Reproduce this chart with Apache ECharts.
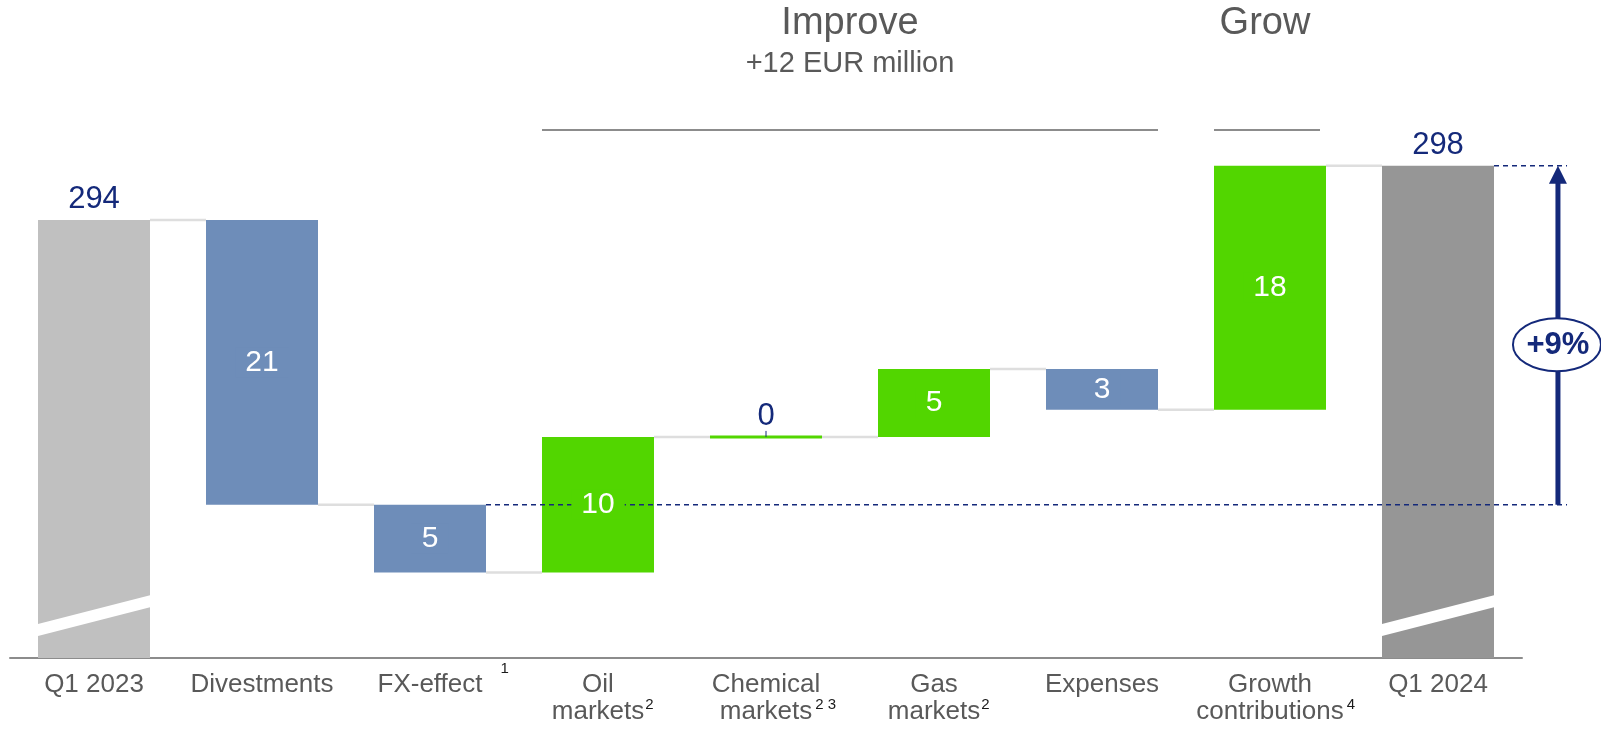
<!DOCTYPE html>
<html><head><meta charset="utf-8">
<script src="https://cdn.jsdelivr.net/npm/echarts@6/dist/echarts.min.js"></script>
<style>html,body{margin:0;padding:0;background:#fff}#c{width:1601px;height:729px}</style>
</head><body><div id="c"></div>
<script>
// ---- data ----
const categories = ['Q1 2023','Divestments','FX-effect','Oil\nmarkets','Chemical\nmarkets','Gas\nmarkets','Expenses','Growth\ncontributions','Q1 2024'];
const footnotes = ['','','1','2','2 3','2','','4',''];
const values = [294,-21,-5,10,0,5,-3,18,298];
const isTotal = [true,false,false,false,false,false,false,false,true];
const valueLabels = ['294','21','5','10','0','5','3','18','298'];
const headerTitles = ['Improve','Grow'];
const headerSubtitle = '+12 EUR million';
const changeLabel = '+9%';

// ---- style / layout ----
const Y_MIN = 261.7, Y_MAX = 308;
const NAVY = '#14297A', GRAY_TXT = '#595959';
const C_UP = '#52D600', C_DOWN = '#6E8DB9', C_TOT = ['#C0C0C0', '#969696'];
const FONT = "'Liberation Sans', Arial, sans-serif";
const supGap = [0,0,18,1,3,1,0,3,0];
const supRaise = [0,0,32,14,14,14,0,14,0];

// running totals
let run = 0;
const lows = [], highs = [], ends = [], colors = [];
let totalCount = 0;
values.forEach((v, i) => {
  if (isTotal[i]) {
    lows.push(Y_MIN); highs.push(v); run = v;
    colors.push(C_TOT[totalCount++]);
  } else {
    const s = run; run = s + v;
    lows.push(Math.min(s, run)); highs.push(Math.max(s, run));
    colors.push(v >= 0 ? C_UP : C_DOWN);
  }
  ends.push(run);
});
const n = categories.length;
const barData = categories.map((c, i) => [i, lows[i], highs[i]]);

function renderBars(params, api) {
  const i = api.value(0);
  const catW = api.size([1, 0])[0];
  const w = catW * 2 / 3;
  const pHi = api.coord([i, api.value(2)]);
  const pLo = api.coord([i, api.value(1)]);
  const x = pHi[0] - w / 2;
  let y = pHi[1], h = pLo[1] - pHi[1];
  if (h < 3) { y = pHi[1] - 1.5; h = 3; }
  const children = [];
  if (i < n - 1) {
    const yc = api.coord([i, ends[i]])[1];
    children.push({type: 'line', shape: {x1: x + w, y1: yc, x2: x + catW, y2: yc},
      style: {stroke: '#DEDEDE', lineWidth: 2.5}});
  }
  children.push({type: 'rect', shape: {x: x, y: y, width: w, height: h}, style: {fill: colors[i]}});
  if (isTotal[i]) {
    const yL = api.coord([i, 263.75])[1], yR = api.coord([i, 265.9])[1];
    children.push({type: 'polygon', shape: {points: [[x - 1, yL - 6], [x + w + 1, yR - 6], [x + w + 1, yR + 6], [x - 1, yL + 6]]},
      style: {fill: '#FFFFFF'}});
  }
  return {type: 'group', children};
}

function renderLabels(params, api) {
  const i = api.value(0);
  const hi = api.value(2), lo = api.value(1);
  const pHi = api.coord([i, hi]);
  const pLo = api.coord([i, lo]);
  const children = [];
  if (isTotal[i] || values[i] === 0) {
    children.push({type: 'text', x: pHi[0], y: pHi[1] - 5,
      style: {text: valueLabels[i], fill: NAVY, fontSize: 31, fontFamily: FONT, align: 'center', verticalAlign: 'bottom'}});
    if (values[i] === 0) {
      children.push({type: 'line', shape: {x1: pHi[0], y1: pHi[1] - 6, x2: pHi[0], y2: pHi[1]},
        style: {stroke: NAVY, lineWidth: 1}});
    }
  } else {
    children.push({type: 'text', x: pHi[0], y: (pHi[1] + pLo[1]) / 2,
      style: {text: valueLabels[i], fill: '#FFFFFF', fontSize: 30, fontFamily: FONT, align: 'center', verticalAlign: 'middle',
        backgroundColor: colors[i], padding: [0, 10]}});
  }
  return {type: 'group', children};
}

function renderAnno(params, api) {
  const catW = api.size([1, 0])[0];
  const w = catW * 2 / 3;
  const cx = k => api.coord([k, Y_MIN])[0];
  const yv = v => api.coord([0, v])[1];
  const ch = [];
  // headers
  const impL = cx(3) - w / 2, impR = cx(6) + w / 2;
  const grL = cx(7) - w / 2, grR = cx(7) + w / 2 - 6;
  ch.push({type: 'line', shape: {x1: impL, y1: 130, x2: impR, y2: 130}, style: {stroke: '#8C8C8C', lineWidth: 2}});
  ch.push({type: 'line', shape: {x1: grL, y1: 130, x2: grR, y2: 130}, style: {stroke: '#8C8C8C', lineWidth: 2}});
  ch.push({type: 'text', x: (impL + impR) / 2, y: 24, style: {text: headerTitles[0], fill: GRAY_TXT, fontSize: 38, fontFamily: FONT, align: 'center', verticalAlign: 'middle'}});
  ch.push({type: 'text', x: (impL + impR) / 2, y: 64, style: {text: headerSubtitle, fill: GRAY_TXT, fontSize: 29, fontFamily: FONT, align: 'center', verticalAlign: 'middle'}});
  ch.push({type: 'text', x: (grL + grR) / 2 - 2, y: 24, style: {text: headerTitles[1], fill: GRAY_TXT, fontSize: 38, fontFamily: FONT, align: 'center', verticalAlign: 'middle'}});
  // dashed reference lines
  const xEnd = cx(n - 1) + 0.768 * catW;
  const yBase = yv(ends[1]);
  const yTop = yv(ends[n - 1]);
  ch.push({type: 'line', shape: {x1: cx(2) + w / 2, y1: yBase, x2: xEnd, y2: yBase}, style: {stroke: NAVY, lineWidth: 1.5, lineDash: [5, 4]}});
  ch.push({type: 'line', shape: {x1: cx(n - 1) + w / 2, y1: yTop, x2: xEnd, y2: yTop}, style: {stroke: NAVY, lineWidth: 1.5, lineDash: [5, 4]}});
  // arrow
  const ax = cx(n - 1) + 0.714 * catW;
  ch.push({type: 'line', shape: {x1: ax, y1: yBase, x2: ax, y2: yTop + 14}, style: {stroke: NAVY, lineWidth: 5}});
  ch.push({type: 'polygon', shape: {points: [[ax, yTop], [ax - 9, yTop + 18], [ax + 9, yTop + 18]]}, style: {fill: NAVY}});
  // ellipse badge
  const ex = cx(n - 1) + 0.708 * catW, ey = yv(284.8);
  ch.push({type: 'ellipse', shape: {cx: ex, cy: ey, rx: 44, ry: 26.5}, style: {fill: '#FFFFFF', stroke: NAVY, lineWidth: 2}});
  ch.push({type: 'text', x: ex + 1, y: ey + 1, style: {text: changeLabel, fill: NAVY, fontSize: 31, fontWeight: 'bold', fontFamily: FONT, align: 'center', verticalAlign: 'middle'}});
  return {type: 'group', children: ch};
}

// axis label rich styles
const rich = {a: {fontSize: 26, color: GRAY_TXT, fontFamily: FONT, lineHeight: 27}};
categories.forEach((c, i) => {
  rich['h' + i] = {fontSize: 15, color: 'transparent', fontFamily: FONT, lineHeight: 27, padding: [0, supGap[i], supRaise[i], 0]};
  rich['s' + i] = {fontSize: 15, color: '#1A1A1A', fontFamily: FONT, lineHeight: 27, padding: [0, 0, supRaise[i], supGap[i]]};
});

const chart = echarts.init(document.getElementById('c'), null, {renderer: 'canvas'});
chart.setOption({
  animation: false,
  backgroundColor: '#FFFFFF',
  grid: {left: 10, right: 79, top: 30, bottom: 71, containLabel: false},
  xAxis: {
    type: 'category', data: categories,
    axisTick: {show: false},
    axisLine: {lineStyle: {color: '#8C8C8C', width: 2}},
    axisLabel: {
      interval: 0, margin: 13, rich: rich,
      formatter: (val, idx) => {
        const lines = val.split('\n');
        const last = lines.length - 1;
        const fn = footnotes[idx];
        return lines.map((ln, k) => (k === last && fn)
          ? `{h${idx}|${fn}}{a|${ln}}{s${idx}|${fn}}` : `{a|${ln}}`).join('\n');
      }
    }
  },
  yAxis: {type: 'value', min: Y_MIN, max: Y_MAX, show: false, splitLine: {show: false}},
  series: [
    {type: 'custom', z: 2, renderItem: renderBars, data: barData, encode: {x: 0, y: [1, 2]}, silent: true},
    {type: 'custom', z: 3, renderItem: renderAnno, data: [[0, Y_MIN, Y_MIN]], encode: {x: 0, y: [1, 2]}, silent: true},
    {type: 'custom', z: 4, renderItem: renderLabels, data: barData, encode: {x: 0, y: [1, 2]}, silent: true}
  ]
});
</script>
</body></html>
